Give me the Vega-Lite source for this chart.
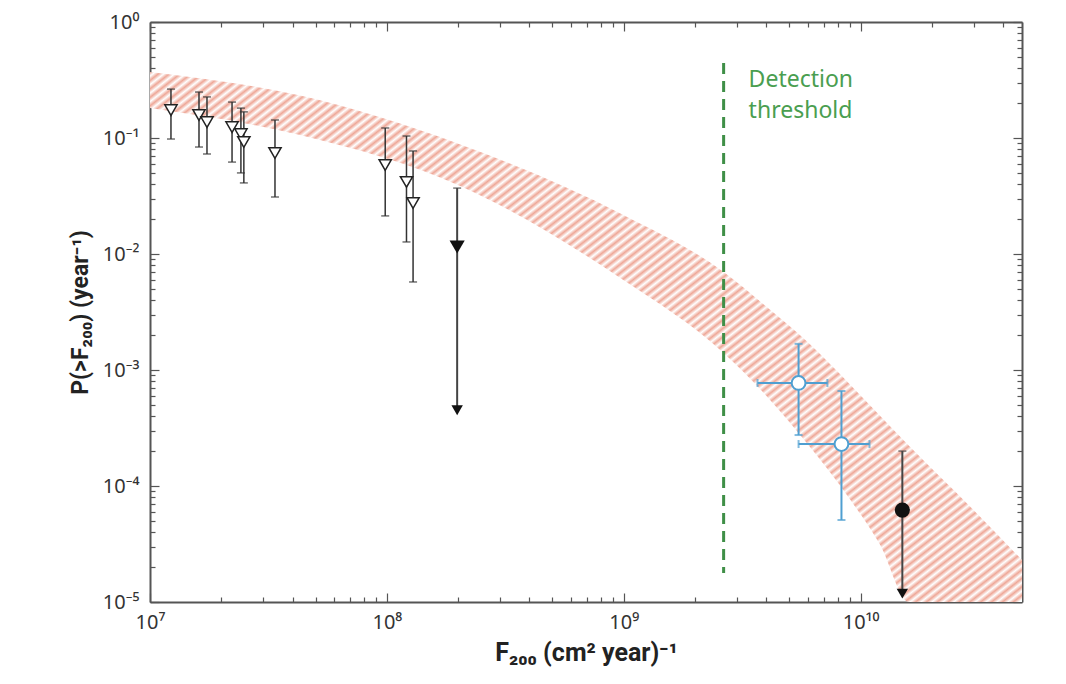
{
"$schema": "https://vega.github.io/schema/vega-lite/v6.json",
"width": 872, "height": 580,
"autosize": {"type": "none"},
"padding": {"left": 150, "top": 22, "right": 44, "bottom": 82},
"background": "white",
"config": {"view": {"stroke": null}, "font": "Noto Sans"},
"datasets": {
"band": [
{"F":1e7,"up":0.371,"lo":0.181},
{"F":4.3e7,"up":0.232,"lo":0.106},
{"F":2.04e8,"up":0.088,"lo":0.0386},
{"F":9.96e8,"up":0.0217,"lo":0.00597},
{"F":2.64e9,"up":0.007,"lo":0.0014},
{"F":3.97e9,"up":0.00356,"lo":0.000609},
{"F":5.97e9,"up":0.00174,"lo":0.00023},
{"F":9.06e9,"up":0.000743,"lo":0.0000757},
{"F":1.21e10,"up":0.000401,"lo":0.000031},
{"F":1.6e10,"up":0.000222,"lo":0.00001},
{"F":2.91e10,"up":0.0000659,"lo":0.00001},
{"F":4.8e10,"up":0.000023,"lo":0.00001}
],
"open": [
{"F":1.226e7,"P":0.174,"hi":0.264,"lo":0.098},
{"F":1.61e7,"P":0.158,"hi":0.249,"lo":0.0836},
{"F":1.74e7,"P":0.137,"hi":0.226,"lo":0.0728},
{"F":2.22e7,"P":0.124,"hi":0.204,"lo":0.062},
{"F":2.42e7,"P":0.108,"hi":0.181,"lo":0.05},
{"F":2.49e7,"P":0.0924,"hi":0.168,"lo":0.041},
{"F":3.37e7,"P":0.0743,"hi":0.143,"lo":0.031},
{"F":9.84e7,"P":0.0585,"hi":0.122,"lo":0.0213},
{"F":1.21e8,"P":0.0418,"hi":0.104,"lo":0.0127},
{"F":1.29e8,"P":0.0275,"hi":0.0773,"lo":0.00574}
],
"limits": [
{"F":1.98e8,"P":0.0115,"hi":0.037,"tip":0.00045,"kind":"triangle"},
{"F":1.5e10,"P":0.000062,"hi":0.0002,"tip":0.0000118,"kind":"circle"}
],
"blue": [
{"F":5.47e9,"P":0.000773,"Plo":0.000275,"Phi":0.00168,"Flo":3.67e9,"Fhi":7.24e9},
{"F":8.3e9,"P":0.00023,"Plo":0.0000509,"Phi":0.000659,"Flo":5.47e9,"Fhi":1.09e10}
],
"thr": [
{"F":2.64e9,"top":0.443,"bot":0.0000178,"ty":0.39,"label":"Detection\nthreshold"}
]
},
"resolve": {"axis": {"x": "independent", "y": "independent"}},
"layer": [
{
"data": {"name": "band"},
"mark": {"type": "area", "interpolate": "monotone", "clip": true,
"fill": {"gradient": "linear", "x1": 0, "y1": 0, "x2": 1.108, "y2": 0.862, "stops": [
{"offset":0,"color":"#eea797"},{"offset":0.0035,"color":"#fff"},{"offset":0.007,"color":"#eea797"},{"offset":0.0105,"color":"#fff"},{"offset":0.014,"color":"#eea797"},{"offset":0.0175,"color":"#fff"},{"offset":0.021,"color":"#eea797"},{"offset":0.0245,"color":"#fff"},{"offset":0.028,"color":"#eea797"},{"offset":0.0315,"color":"#fff"},{"offset":0.035,"color":"#eea797"},{"offset":0.0385,"color":"#fff"},{"offset":0.042,"color":"#eea797"},{"offset":0.0455,"color":"#fff"},{"offset":0.049,"color":"#eea797"},{"offset":0.0525,"color":"#fff"},{"offset":0.056,"color":"#eea797"},{"offset":0.0595,"color":"#fff"},{"offset":0.063,"color":"#eea797"},{"offset":0.0665,"color":"#fff"},
{"offset":0.07,"color":"#eea797"},{"offset":0.0735,"color":"#fff"},{"offset":0.077,"color":"#eea797"},{"offset":0.0805,"color":"#fff"},{"offset":0.084,"color":"#eea797"},{"offset":0.0875,"color":"#fff"},{"offset":0.091,"color":"#eea797"},{"offset":0.0945,"color":"#fff"},{"offset":0.098,"color":"#eea797"},{"offset":0.1015,"color":"#fff"},{"offset":0.105,"color":"#eea797"},{"offset":0.1085,"color":"#fff"},{"offset":0.112,"color":"#eea797"},{"offset":0.1155,"color":"#fff"},{"offset":0.119,"color":"#eea797"},{"offset":0.1225,"color":"#fff"},{"offset":0.126,"color":"#eea797"},{"offset":0.1295,"color":"#fff"},{"offset":0.133,"color":"#eea797"},{"offset":0.1365,"color":"#fff"},
{"offset":0.14,"color":"#eea797"},{"offset":0.1435,"color":"#fff"},{"offset":0.147,"color":"#eea797"},{"offset":0.1505,"color":"#fff"},{"offset":0.154,"color":"#eea797"},{"offset":0.1575,"color":"#fff"},{"offset":0.161,"color":"#eea797"},{"offset":0.1645,"color":"#fff"},{"offset":0.168,"color":"#eea797"},{"offset":0.1715,"color":"#fff"},{"offset":0.175,"color":"#eea797"},{"offset":0.1785,"color":"#fff"},{"offset":0.182,"color":"#eea797"},{"offset":0.1855,"color":"#fff"},{"offset":0.189,"color":"#eea797"},{"offset":0.1925,"color":"#fff"},{"offset":0.196,"color":"#eea797"},{"offset":0.1995,"color":"#fff"},{"offset":0.203,"color":"#eea797"},{"offset":0.2065,"color":"#fff"},
{"offset":0.21,"color":"#eea797"},{"offset":0.2135,"color":"#fff"},{"offset":0.217,"color":"#eea797"},{"offset":0.2205,"color":"#fff"},{"offset":0.224,"color":"#eea797"},{"offset":0.2275,"color":"#fff"},{"offset":0.231,"color":"#eea797"},{"offset":0.2345,"color":"#fff"},{"offset":0.238,"color":"#eea797"},{"offset":0.2415,"color":"#fff"},{"offset":0.245,"color":"#eea797"},{"offset":0.2485,"color":"#fff"},{"offset":0.252,"color":"#eea797"},{"offset":0.2555,"color":"#fff"},{"offset":0.259,"color":"#eea797"},{"offset":0.2625,"color":"#fff"},{"offset":0.266,"color":"#eea797"},{"offset":0.2695,"color":"#fff"},{"offset":0.273,"color":"#eea797"},{"offset":0.2765,"color":"#fff"},
{"offset":0.28,"color":"#eea797"},{"offset":0.2835,"color":"#fff"},{"offset":0.287,"color":"#eea797"},{"offset":0.2905,"color":"#fff"},{"offset":0.294,"color":"#eea797"},{"offset":0.2975,"color":"#fff"},{"offset":0.301,"color":"#eea797"},{"offset":0.3045,"color":"#fff"},{"offset":0.308,"color":"#eea797"},{"offset":0.3115,"color":"#fff"},{"offset":0.315,"color":"#eea797"},{"offset":0.3185,"color":"#fff"},{"offset":0.322,"color":"#eea797"},{"offset":0.3255,"color":"#fff"},{"offset":0.329,"color":"#eea797"},{"offset":0.3325,"color":"#fff"},{"offset":0.336,"color":"#eea797"},{"offset":0.3395,"color":"#fff"},{"offset":0.343,"color":"#eea797"},{"offset":0.3465,"color":"#fff"},
{"offset":0.35,"color":"#eea797"},{"offset":0.3535,"color":"#fff"},{"offset":0.357,"color":"#eea797"},{"offset":0.3605,"color":"#fff"},{"offset":0.364,"color":"#eea797"},{"offset":0.3675,"color":"#fff"},{"offset":0.371,"color":"#eea797"},{"offset":0.3745,"color":"#fff"},{"offset":0.378,"color":"#eea797"},{"offset":0.3815,"color":"#fff"},{"offset":0.385,"color":"#eea797"},{"offset":0.3885,"color":"#fff"},{"offset":0.392,"color":"#eea797"},{"offset":0.3955,"color":"#fff"},{"offset":0.399,"color":"#eea797"},{"offset":0.4025,"color":"#fff"},{"offset":0.406,"color":"#eea797"},{"offset":0.4095,"color":"#fff"},{"offset":0.413,"color":"#eea797"},{"offset":0.4165,"color":"#fff"},
{"offset":0.42,"color":"#eea797"},{"offset":0.4235,"color":"#fff"},{"offset":0.427,"color":"#eea797"},{"offset":0.4305,"color":"#fff"},{"offset":0.434,"color":"#eea797"},{"offset":0.4375,"color":"#fff"},{"offset":0.441,"color":"#eea797"},{"offset":0.4445,"color":"#fff"},{"offset":0.448,"color":"#eea797"},{"offset":0.4515,"color":"#fff"},{"offset":0.455,"color":"#eea797"},{"offset":0.4585,"color":"#fff"},{"offset":0.462,"color":"#eea797"},{"offset":0.4655,"color":"#fff"},{"offset":0.469,"color":"#eea797"},{"offset":0.4725,"color":"#fff"},{"offset":0.476,"color":"#eea797"},{"offset":0.4795,"color":"#fff"},{"offset":0.483,"color":"#eea797"},{"offset":0.4865,"color":"#fff"},
{"offset":0.49,"color":"#eea797"},{"offset":0.4935,"color":"#fff"},{"offset":0.497,"color":"#eea797"},{"offset":0.5005,"color":"#fff"},{"offset":0.504,"color":"#eea797"},{"offset":0.5075,"color":"#fff"},{"offset":0.511,"color":"#eea797"},{"offset":0.5145,"color":"#fff"},{"offset":0.518,"color":"#eea797"},{"offset":0.5215,"color":"#fff"},{"offset":0.525,"color":"#eea797"},{"offset":0.5285,"color":"#fff"},{"offset":0.532,"color":"#eea797"},{"offset":0.5355,"color":"#fff"},{"offset":0.539,"color":"#eea797"},{"offset":0.5425,"color":"#fff"},{"offset":0.546,"color":"#eea797"},{"offset":0.5495,"color":"#fff"},{"offset":0.553,"color":"#eea797"},{"offset":0.5565,"color":"#fff"},
{"offset":0.56,"color":"#eea797"},{"offset":0.5635,"color":"#fff"},{"offset":0.567,"color":"#eea797"},{"offset":0.5705,"color":"#fff"},{"offset":0.574,"color":"#eea797"},{"offset":0.5775,"color":"#fff"},{"offset":0.581,"color":"#eea797"},{"offset":0.5845,"color":"#fff"},{"offset":0.588,"color":"#eea797"},{"offset":0.5915,"color":"#fff"},{"offset":0.595,"color":"#eea797"},{"offset":0.5985,"color":"#fff"},{"offset":0.602,"color":"#eea797"},{"offset":0.6055,"color":"#fff"},{"offset":0.609,"color":"#eea797"},{"offset":0.6125,"color":"#fff"},{"offset":0.616,"color":"#eea797"},{"offset":0.6195,"color":"#fff"},{"offset":0.623,"color":"#eea797"},{"offset":0.6265,"color":"#fff"},
{"offset":0.63,"color":"#eea797"},{"offset":0.6335,"color":"#fff"},{"offset":0.637,"color":"#eea797"},{"offset":0.6405,"color":"#fff"},{"offset":0.644,"color":"#eea797"},{"offset":0.6475,"color":"#fff"},{"offset":0.651,"color":"#eea797"},{"offset":0.6545,"color":"#fff"},{"offset":0.658,"color":"#eea797"},{"offset":0.6615,"color":"#fff"},{"offset":0.665,"color":"#eea797"},{"offset":0.6685,"color":"#fff"},{"offset":0.672,"color":"#eea797"},{"offset":0.6755,"color":"#fff"},{"offset":0.679,"color":"#eea797"},{"offset":0.6825,"color":"#fff"},{"offset":0.686,"color":"#eea797"},{"offset":0.6895,"color":"#fff"},{"offset":0.693,"color":"#eea797"},{"offset":0.6965,"color":"#fff"},
{"offset":0.7,"color":"#eea797"},{"offset":0.7035,"color":"#fff"},{"offset":0.707,"color":"#eea797"},{"offset":0.7105,"color":"#fff"},{"offset":0.714,"color":"#eea797"},{"offset":0.7175,"color":"#fff"},{"offset":0.721,"color":"#eea797"},{"offset":0.7245,"color":"#fff"},{"offset":0.728,"color":"#eea797"},{"offset":0.7315,"color":"#fff"},{"offset":0.735,"color":"#eea797"},{"offset":0.7385,"color":"#fff"},{"offset":0.742,"color":"#eea797"},{"offset":0.7455,"color":"#fff"},{"offset":0.749,"color":"#eea797"},{"offset":0.7525,"color":"#fff"},{"offset":0.756,"color":"#eea797"},{"offset":0.7595,"color":"#fff"},{"offset":0.763,"color":"#eea797"},{"offset":0.7665,"color":"#fff"},
{"offset":0.77,"color":"#eea797"},{"offset":0.7735,"color":"#fff"},{"offset":0.777,"color":"#eea797"},{"offset":0.7805,"color":"#fff"},{"offset":0.784,"color":"#eea797"},{"offset":0.7875,"color":"#fff"},{"offset":0.791,"color":"#eea797"},{"offset":0.7945,"color":"#fff"},{"offset":0.798,"color":"#eea797"},{"offset":0.8015,"color":"#fff"},{"offset":0.805,"color":"#eea797"},{"offset":0.8085,"color":"#fff"},{"offset":0.812,"color":"#eea797"},{"offset":0.8155,"color":"#fff"},{"offset":0.819,"color":"#eea797"},{"offset":0.8225,"color":"#fff"},{"offset":0.826,"color":"#eea797"},{"offset":0.8295,"color":"#fff"},{"offset":0.833,"color":"#eea797"},{"offset":0.8365,"color":"#fff"},
{"offset":0.84,"color":"#eea797"},{"offset":0.8435,"color":"#fff"},{"offset":0.847,"color":"#eea797"},{"offset":0.8505,"color":"#fff"},{"offset":0.854,"color":"#eea797"},{"offset":0.8575,"color":"#fff"},{"offset":0.861,"color":"#eea797"},{"offset":0.8645,"color":"#fff"},{"offset":0.868,"color":"#eea797"},{"offset":0.8715,"color":"#fff"},{"offset":0.875,"color":"#eea797"},{"offset":0.8785,"color":"#fff"},{"offset":0.882,"color":"#eea797"},{"offset":0.8855,"color":"#fff"},{"offset":0.889,"color":"#eea797"},{"offset":0.8925,"color":"#fff"},{"offset":0.896,"color":"#eea797"},{"offset":0.8995,"color":"#fff"},{"offset":0.903,"color":"#eea797"},{"offset":0.9065,"color":"#fff"},
{"offset":0.91,"color":"#eea797"},{"offset":0.9135,"color":"#fff"},{"offset":0.917,"color":"#eea797"},{"offset":0.9205,"color":"#fff"},{"offset":0.924,"color":"#eea797"},{"offset":0.9275,"color":"#fff"},{"offset":0.931,"color":"#eea797"},{"offset":0.9345,"color":"#fff"},{"offset":0.938,"color":"#eea797"},{"offset":0.9415,"color":"#fff"},{"offset":0.945,"color":"#eea797"},{"offset":0.9485,"color":"#fff"},{"offset":0.952,"color":"#eea797"},{"offset":0.9555,"color":"#fff"},{"offset":0.959,"color":"#eea797"},{"offset":0.9625,"color":"#fff"},{"offset":0.966,"color":"#eea797"},{"offset":0.9695,"color":"#fff"},{"offset":0.973,"color":"#eea797"},{"offset":0.9765,"color":"#fff"},
{"offset":0.98,"color":"#eea797"},{"offset":0.9835,"color":"#fff"},{"offset":0.987,"color":"#eea797"},{"offset":0.9905,"color":"#fff"},{"offset":0.994,"color":"#eea797"},{"offset":0.9975,"color":"#fff"}
]}},
"encoding": {
"x": {"field": "F", "type": "quantitative", "scale": {"type": "log", "domain": [1e7, 4.8e10], "nice": false},
"axis": {"orient": "bottom", "grid": false,
"values": [1e7,2e7,3e7,4e7,5e7,6e7,7e7,8e7,9e7,1e8,2e8,3e8,4e8,5e8,6e8,7e8,8e8,9e8,1e9,2e9,3e9,4e9,5e9,6e9,7e9,8e9,9e9,1e10,2e10,3e10,4e10],
"labelExpr": "abs(log(datum.value)/LN10-round(log(datum.value)/LN10))<0.001 ? '10'+['⁰','¹','²','³','⁴','⁵','⁶','⁷','⁸','⁹','¹⁰'][round(log(datum.value)/LN10)] : ''",
"tickSize": {"condition": {"test": "abs(log(datum.value)/LN10-round(log(datum.value)/LN10))<0.001", "value": -9}, "value": -5},
"tickColor": "#555", "tickWidth": 1.2, "domainColor": "#555", "domainWidth": 2,
"labelOverlap": false, "labelFlush": false, "labelBound": false, "labelPadding": 19,
"labelFont": "Noto Sans", "labelFontSize": 20, "labelColor": "#333",
"title": "F₂₀₀ (cm² year)⁻¹", "titleFont": "Roboto", "titleFontSize": 25, "titleFontWeight": "bold", "titleColor": "#222", "titlePadding": 4}},
"y": {"field": "up", "type": "quantitative", "scale": {"type": "log", "domain": [0.00001, 1], "nice": false},
"axis": {"orient": "left", "grid": false,
"values": [1,0.1,0.2,0.3,0.4,0.5,0.6,0.7,0.8,0.9,0.01,0.02,0.03,0.04,0.05,0.06,0.07,0.08,0.09,0.001,0.002,0.003,0.004,0.005,0.006,0.007,0.008,0.009,0.0001,0.0002,0.0003,0.0004,0.0005,0.0006,0.0007,0.0008,0.0009,0.00001,0.00002,0.00003,0.00004,0.00005,0.00006,0.00007,0.00008,0.00009],
"labelExpr": "abs(log(datum.value)/LN10-round(log(datum.value)/LN10))<0.001 ? '10'+(datum.value<0.5?'⁻':'')+['⁰','¹','²','³','⁴','⁵','⁶','⁷','⁸','⁹','¹⁰'][abs(round(log(datum.value)/LN10))] : ''",
"tickSize": {"condition": {"test": "abs(log(datum.value)/LN10-round(log(datum.value)/LN10))<0.001", "value": -9}, "value": -5},
"tickColor": "#555", "tickWidth": 1.2, "domainColor": "#555", "domainWidth": 2,
"labelOverlap": false, "labelFlush": false, "labelBound": false, "labelPadding": 20,
"labelFont": "Noto Sans", "labelFontSize": 20, "labelColor": "#333",
"title": "P(>F₂₀₀) (year⁻¹)", "titleFont": "Roboto", "titleFontSize": 23, "titleFontWeight": "bold", "titleColor": "#222", "titlePadding": 10}},
"y2": {"field": "lo"}
}
},
{
"data": {"name": "thr"},
"mark": {"type": "rule", "color": "#3f8f47", "strokeWidth": 3, "strokeDash": [11, 7]},
"encoding": {
"x": {"field": "F", "type": "quantitative", "scale": {"type": "log", "domain": [1e7, 4.8e10], "nice": false},
"axis": {"orient": "top", "grid": false, "labels": false, "title": null,
"values": [1e7,2e7,3e7,4e7,5e7,6e7,7e7,8e7,9e7,1e8,2e8,3e8,4e8,5e8,6e8,7e8,8e8,9e8,1e9,2e9,3e9,4e9,5e9,6e9,7e9,8e9,9e9,1e10,2e10,3e10,4e10],
"tickSize": {"condition": {"test": "abs(log(datum.value)/LN10-round(log(datum.value)/LN10))<0.001", "value": -9}, "value": -5},
"tickColor": "#555", "tickWidth": 1.2, "domainColor": "#555", "domainWidth": 2}},
"y": {"field": "top", "type": "quantitative", "scale": {"type": "log", "domain": [0.00001, 1], "nice": false},
"axis": {"orient": "right", "grid": false, "labels": false, "title": null,
"values": [1,0.1,0.2,0.3,0.4,0.5,0.6,0.7,0.8,0.9,0.01,0.02,0.03,0.04,0.05,0.06,0.07,0.08,0.09,0.001,0.002,0.003,0.004,0.005,0.006,0.007,0.008,0.009,0.0001,0.0002,0.0003,0.0004,0.0005,0.0006,0.0007,0.0008,0.0009,0.00001,0.00002,0.00003,0.00004,0.00005,0.00006,0.00007,0.00008,0.00009],
"tickSize": {"condition": {"test": "abs(log(datum.value)/LN10-round(log(datum.value)/LN10))<0.001", "value": -9}, "value": -5},
"tickColor": "#555", "tickWidth": 1.2, "domainColor": "#555", "domainWidth": 2}},
"y2": {"field": "bot"}
}
},
{
"data": {"name": "thr"},
"mark": {"type": "text", "align": "left", "baseline": "top", "dx": 25, "font": "Noto Sans", "fontSize": 23, "color": "#4a9e50", "lineBreak": "\n", "lineHeight": 31},
"encoding": {
"x": {"field": "F", "type": "quantitative", "scale": {"type": "log", "domain": [1e7, 4.8e10], "nice": false}, "axis": null},
"y": {"field": "ty", "type": "quantitative", "scale": {"type": "log", "domain": [0.00001, 1], "nice": false}, "axis": null},
"text": {"field": "label"}
}
},
{
"data": {"name": "open"},
"mark": {"type": "rule", "color": "#333", "strokeWidth": 1.5},
"encoding": {
"x": {"field": "F", "type": "quantitative", "scale": {"type": "log", "domain": [1e7, 4.8e10], "nice": false}, "axis": null},
"y": {"field": "lo", "type": "quantitative", "scale": {"type": "log", "domain": [0.00001, 1], "nice": false}, "axis": null},
"y2": {"field": "hi"}
}
},
{
"data": {"name": "open"},
"transform": [{"fold": ["lo", "hi"], "as": ["end", "v"]}],
"mark": {"type": "tick", "orient": "horizontal", "color": "#333", "size": 8, "thickness": 1.5},
"encoding": {
"x": {"field": "F", "type": "quantitative", "scale": {"type": "log", "domain": [1e7, 4.8e10], "nice": false}, "axis": null},
"y": {"field": "v", "type": "quantitative", "scale": {"type": "log", "domain": [0.00001, 1], "nice": false}, "axis": null}
}
},
{
"data": {"name": "open"},
"mark": {"type": "point", "shape": "triangle-down", "filled": true, "fill": "white", "stroke": "#222", "strokeWidth": 1.5, "size": 150, "opacity": 1},
"encoding": {
"x": {"field": "F", "type": "quantitative", "scale": {"type": "log", "domain": [1e7, 4.8e10], "nice": false}, "axis": null},
"y": {"field": "P", "type": "quantitative", "scale": {"type": "log", "domain": [0.00001, 1], "nice": false}, "axis": null}
}
},
{
"data": {"name": "limits"},
"mark": {"type": "rule", "color": "#444", "strokeWidth": 2},
"encoding": {
"x": {"field": "F", "type": "quantitative", "scale": {"type": "log", "domain": [1e7, 4.8e10], "nice": false}, "axis": null},
"y": {"field": "hi", "type": "quantitative", "scale": {"type": "log", "domain": [0.00001, 1], "nice": false}, "axis": null},
"y2": {"field": "tip"}
}
},
{
"data": {"name": "limits"},
"mark": {"type": "tick", "orient": "horizontal", "color": "#444", "size": 8, "thickness": 1.5},
"encoding": {
"x": {"field": "F", "type": "quantitative", "scale": {"type": "log", "domain": [1e7, 4.8e10], "nice": false}, "axis": null},
"y": {"field": "hi", "type": "quantitative", "scale": {"type": "log", "domain": [0.00001, 1], "nice": false}, "axis": null}
}
},
{
"data": {"name": "limits"},
"mark": {"type": "point", "shape": "triangle-down", "filled": true, "color": "#111", "size": 130, "opacity": 1},
"encoding": {
"x": {"field": "F", "type": "quantitative", "scale": {"type": "log", "domain": [1e7, 4.8e10], "nice": false}, "axis": null},
"y": {"field": "tip", "type": "quantitative", "scale": {"type": "log", "domain": [0.00001, 1], "nice": false}, "axis": null}
}
},
{
"data": {"name": "limits"},
"mark": {"type": "point", "filled": true, "color": "#111", "size": 230, "opacity": 1},
"encoding": {
"x": {"field": "F", "type": "quantitative", "scale": {"type": "log", "domain": [1e7, 4.8e10], "nice": false}, "axis": null},
"y": {"field": "P", "type": "quantitative", "scale": {"type": "log", "domain": [0.00001, 1], "nice": false}, "axis": null},
"shape": {"field": "kind", "type": "nominal", "scale": {"domain": ["triangle", "circle"], "range": ["triangle-down", "circle"]}, "legend": null}
}
},
{
"data": {"name": "blue"},
"mark": {"type": "rule", "color": "#4f9fd1", "strokeWidth": 2},
"encoding": {
"x": {"field": "F", "type": "quantitative", "scale": {"type": "log", "domain": [1e7, 4.8e10], "nice": false}, "axis": null},
"y": {"field": "Plo", "type": "quantitative", "scale": {"type": "log", "domain": [0.00001, 1], "nice": false}, "axis": null},
"y2": {"field": "Phi"}
}
},
{
"data": {"name": "blue"},
"mark": {"type": "rule", "color": "#4f9fd1", "strokeWidth": 2},
"encoding": {
"x": {"field": "Flo", "type": "quantitative", "scale": {"type": "log", "domain": [1e7, 4.8e10], "nice": false}, "axis": null},
"x2": {"field": "Fhi"},
"y": {"field": "P", "type": "quantitative", "scale": {"type": "log", "domain": [0.00001, 1], "nice": false}, "axis": null}
}
},
{
"data": {"name": "blue"},
"transform": [{"fold": ["Plo", "Phi"], "as": ["end", "v"]}],
"mark": {"type": "tick", "orient": "horizontal", "color": "#4f9fd1", "size": 8, "thickness": 2},
"encoding": {
"x": {"field": "F", "type": "quantitative", "scale": {"type": "log", "domain": [1e7, 4.8e10], "nice": false}, "axis": null},
"y": {"field": "v", "type": "quantitative", "scale": {"type": "log", "domain": [0.00001, 1], "nice": false}, "axis": null}
}
},
{
"data": {"name": "blue"},
"transform": [{"fold": ["Flo", "Fhi"], "as": ["end", "h"]}],
"mark": {"type": "tick", "orient": "vertical", "color": "#4f9fd1", "size": 8, "thickness": 2},
"encoding": {
"x": {"field": "h", "type": "quantitative", "scale": {"type": "log", "domain": [1e7, 4.8e10], "nice": false}, "axis": null},
"y": {"field": "P", "type": "quantitative", "scale": {"type": "log", "domain": [0.00001, 1], "nice": false}, "axis": null}
}
},
{
"data": {"name": "blue"},
"mark": {"type": "point", "shape": "circle", "filled": true, "fill": "white", "stroke": "#4f9fd1", "strokeWidth": 2, "size": 190, "opacity": 1},
"encoding": {
"x": {"field": "F", "type": "quantitative", "scale": {"type": "log", "domain": [1e7, 4.8e10], "nice": false}, "axis": null},
"y": {"field": "P", "type": "quantitative", "scale": {"type": "log", "domain": [0.00001, 1], "nice": false}, "axis": null}
}
}
]
}
